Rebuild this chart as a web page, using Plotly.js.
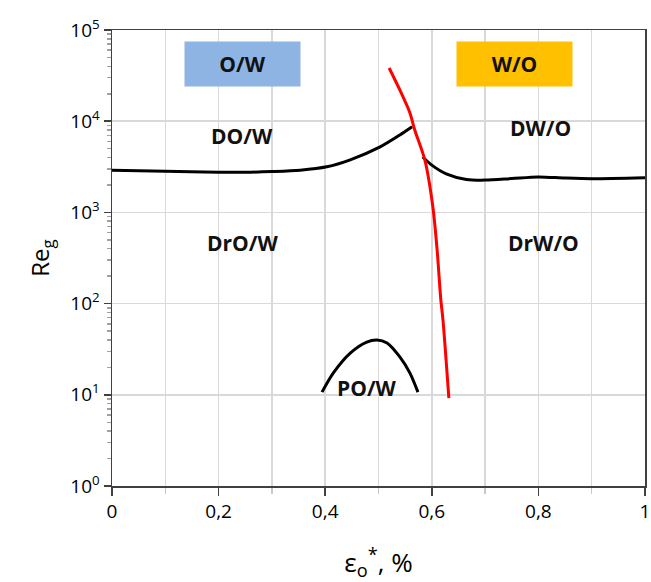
<!DOCTYPE html>
<html>
<head>
<meta charset="utf-8">
<script src="https://cdn.plot.ly/plotly-3.0.1.min.js"></script>
<style>
  html, body { margin: 0; padding: 0; background: #fff; }
  #chart { width: 651px; height: 582px; }
</style>
</head>
<body>
<div id="chart"></div>
<script>
// Flow-regime boundaries: gas Reynolds number vs. oil fraction
const boundaryLeftX  = [0, 0.10, 0.20, 0.26, 0.30, 0.353, 0.403, 0.447, 0.503, 0.540, 0.563];
const boundaryLeftY  = [2900, 2820, 2760, 2760, 2800, 2900, 3160, 3770, 5230, 7060, 8700];

const boundaryRightX = [0.583, 0.600, 0.627, 0.665, 0.70, 0.75, 0.80, 0.85, 0.90, 1.00];
const boundaryRightY = [4050, 3300, 2650, 2300, 2260, 2350, 2450, 2380, 2340, 2400];

const inversionX = [0.520, 0.540, 0.559, 0.568, 0.587, 0.602, 0.610, 0.617, 0.621, 0.632];
const inversionY = [38300, 22000, 12300, 8010, 3750, 1148, 387, 109, 66, 9.2];

const plugX = [0.394, 0.415, 0.447, 0.478, 0.497, 0.516, 0.540, 0.559, 0.574];
const plugY = [10.7, 17.3, 28.7, 37.9, 39.9, 37.0, 26.0, 17.3, 10.7];

// Axis tick labels
const xTickVals = [0, 0.2, 0.4, 0.6, 0.8, 1];
const xTickText = ['0', '0,2', '0,4', '0,6', '0,8', '1'];
const yTickVals = [1, 10, 100, 1000, 10000, 100000];
const yTickText = ['10<sup>0</sup>', '10<sup>1</sup>', '10<sup>2</sup>',
                   '10<sup>3</sup>', '10<sup>4</sup>', '10<sup>5</sup>'];

// Region labels
const regionText = ['DO/W', 'DW/O', 'DrO/W', 'DrW/O', 'PO/W'];
const regionX    = [0.244, 0.803, 0.245, 0.81, 0.478];
const regionY    = [6800, 8500, 460, 460, 11.8];

// Phase boxes
const phaseText  = ['O/W', 'W/O'];
const phaseX     = [0.245, 0.755];
const phaseY     = [42000, 42000];
const phaseColor = ['#8eb4e3', '#ffc000'];

// minor log ticks at 2..9 of each decade
const minorVals = [];
for (let d = 0; d < 5; d++) {
  for (let m = 2; m <= 9; m++) minorVals.push(m * Math.pow(10, d));
}

const lineStyle = (c) => ({ color: c, width: 3, shape: 'spline', smoothing: 0.8 });

const traces = [
  { x: boundaryLeftX,  y: boundaryLeftY,  mode: 'lines', line: lineStyle('#000000'), hoverinfo: 'skip' },
  { x: boundaryRightX, y: boundaryRightY, mode: 'lines', line: lineStyle('#000000'), hoverinfo: 'skip' },
  { x: plugX,          y: plugY,          mode: 'lines', line: lineStyle('#000000'), hoverinfo: 'skip' },
  { x: inversionX,     y: inversionY,     mode: 'lines', line: lineStyle('#ff0000'), hoverinfo: 'skip' }
];

const labelFont = { family: 'Open Sans, sans-serif', size: 21, color: '#111111', weight: 'bold' };

const annotations = [];
regionText.forEach((t, i) => {
  annotations.push({
    x: regionX[i], y: Math.log10(regionY[i]), xref: 'x', yref: 'y',
    text: '<b>' + t + '</b>', showarrow: false, font: labelFont
  });
});
phaseText.forEach((t, i) => {
  annotations.push({
    x: phaseX[i], y: Math.log10(phaseY[i]), xref: 'x', yref: 'y',
    text: '<b>' + t + '</b>', showarrow: false, font: labelFont,
    bgcolor: phaseColor[i], width: 115, height: 44, borderpad: 0
  });
});

const layout = {
  width: 651, height: 582,
  margin: { l: 112, r: 6, t: 30, b: 96 },
  paper_bgcolor: '#ffffff', plot_bgcolor: '#ffffff',
  showlegend: false,
  font: { family: 'Open Sans, sans-serif', color: '#000000' },
  xaxis: {
    range: [0, 1],
    tickmode: 'array', tickvals: xTickVals, ticktext: xTickText,
    ticks: 'outside', ticklen: 8, tickwidth: 1.5, tickcolor: '#404040',
    showline: true, linecolor: '#404040', linewidth: 1.5, mirror: true,
    showgrid: true, gridcolor: '#d9d9d9', gridwidth: 1.5,
    zeroline: false,
    tickfont: { size: 19, color: '#000000' },
    minor: { dtick: 0.1, showgrid: true, gridcolor: '#d9d9d9', gridwidth: 1.5,
             ticks: 'outside', ticklen: 6, tickcolor: '#c8c8c8' },
    title: { text: 'ε<sub>o</sub><sup>*</sup>, %', font: { size: 26, color: '#000000' }, standoff: 32 }
  },
  yaxis: {
    type: 'log', range: [0, 5],
    tickmode: 'array', tickvals: yTickVals, ticktext: yTickText,
    ticks: 'outside', ticklen: 7, tickwidth: 1.5, tickcolor: '#404040',
    showline: true, linecolor: '#404040', linewidth: 1.5, mirror: true,
    showgrid: true, gridcolor: '#d9d9d9', gridwidth: 1.5,
    zeroline: false,
    tickfont: { size: 19, color: '#000000' },
    minor: { tickmode: 'array', tickvals: minorVals, ticks: 'outside',
             ticklen: 4, tickcolor: '#a0a0a0', showgrid: false },
    title: { text: 'Re<sub>g</sub>', font: { size: 24, color: '#000000' }, standoff: 14 }
  },
  annotations: annotations
};

Plotly.newPlot('chart', traces, layout, { displayModeBar: false, staticPlot: true });
</script>
</body>
</html>
